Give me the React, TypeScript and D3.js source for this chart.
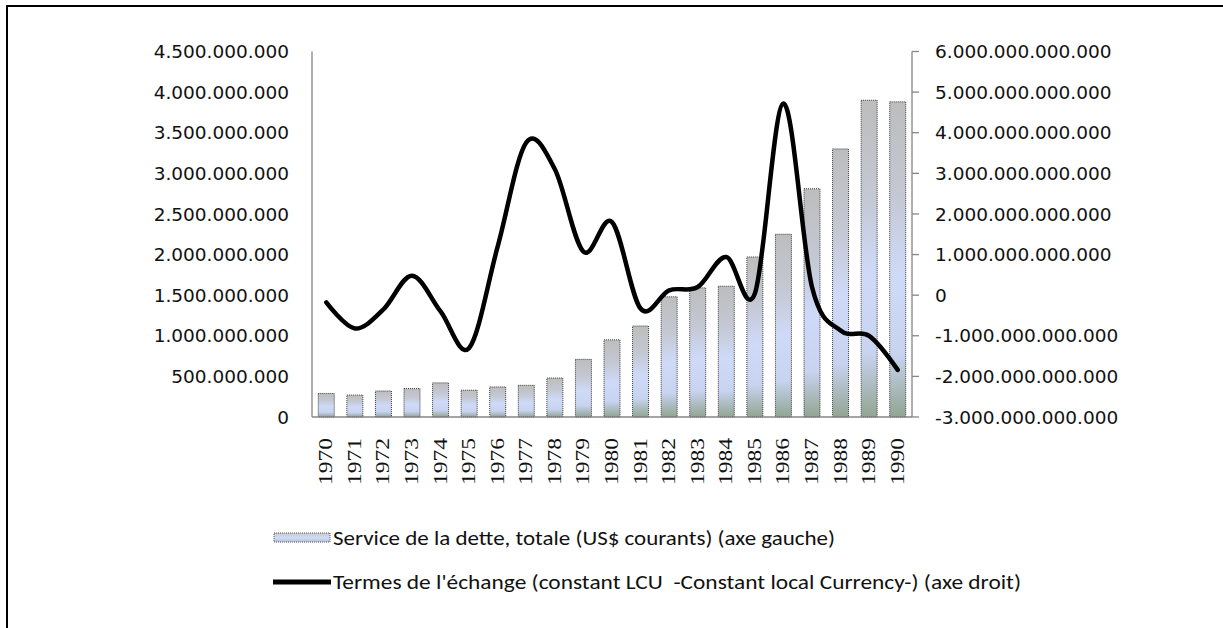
import React from "react";
import * as d3 from "d3";

const years = ["1970","1971","1972","1973","1974","1975","1976","1977","1978","1979","1980","1981","1982","1983","1984","1985","1986","1987","1988","1989","1990"];
const debtService = [290e6, 270e6, 320e6, 350e6, 420e6, 330e6, 370e6, 390e6, 480e6, 710e6, 950e6, 1120e6, 1480e6, 1590e6, 1610e6, 1970e6, 2250e6, 2810e6, 3300e6, 3900e6, 3880e6];
const termsOfTrade = [-0.18e12, -0.82e12, -0.35e12, 0.48e12, -0.4e12, -1.3e12, 1.2e12, 3.76e12, 3.1e12, 1.07e12, 1.8e12, -0.33e12, 0.12e12, 0.2e12, 0.94e12, 0.04e12, 4.72e12, 0.2e12, -0.87e12, -1.0e12, -1.84e12];
const leftTicks = [0, 500e6, 1000e6, 1500e6, 2000e6, 2500e6, 3000e6, 3500e6, 4000e6, 4500e6];
const rightTicks = [-3e12, -2e12, -1e12, 0, 1e12, 2e12, 3e12, 4e12, 5e12, 6e12];
const legendBar = "Service de la dette, totale (US$ courants) (axe gauche)";
const legendLine = "Termes de l'échange (constant LCU  -Constant local Currency-) (axe droit)";

const W = 1223, H = 628;
const X0 = 312, X1 = 912, YT = 51.5, YB = 417;

const fmt = (v: number) => {
  const neg = v < 0;
  const s = Math.abs(Math.round(v)).toString().replace(/\B(?=(\d{3})+(?!\d))/g, ".");
  return (neg ? "-" : "") + s;
};

export default function App() {
  const x = d3.scaleBand<string>().domain(years).range([X0, X1]).paddingInner(0.44).paddingOuter(0.22);
  const yL = d3.scaleLinear().domain([0, 4.5e9]).range([YB, YT]);
  const yR = d3.scaleLinear().domain([-3e12, 6e12]).range([YB, YT]);
  const cx = (i: number) => (x(years[i]) as number) + x.bandwidth() / 2;
  const line = d3.line<number>().x((_, i) => cx(i)).y((d) => yR(d)).curve(d3.curveCardinal.tension(0));
  const axisColor = "#868686";
  const tickFont = "'DejaVu Sans', Verdana, sans-serif";
  const legendFont = "Carlito, 'Liberation Sans Narrow', 'Liberation Sans', sans-serif";

  return (
    <svg width={W} height={H} style={{ position: "absolute", left: 0, top: 0, display: "block", background: "#fff" }}>
      <defs>
        <linearGradient id="barGrad" x1="0" y1="0" x2="0" y2="1">
          <stop offset="0" stopColor="#bdbdbd" />
          <stop offset="0.3" stopColor="#c4c8d3" />
          <stop offset="0.55" stopColor="#cfdaf8" />
          <stop offset="0.8" stopColor="#c8d3f0" />
          <stop offset="1" stopColor="#92a592" />
        </linearGradient>
        <linearGradient id="legGrad" x1="0" y1="0" x2="0" y2="1">
          <stop offset="0" stopColor="#c8c8c8" />
          <stop offset="0.5" stopColor="#d0dbf6" />
          <stop offset="1" stopColor="#b8c4dc" />
        </linearGradient>
      </defs>
      <rect x={7} y={6} width={W + 10} height={H + 10} fill="none" stroke="#000" strokeWidth={2} />

      {/* bars */}
      {debtService.map((v, i) => (
        <rect key={years[i]} x={x(years[i])} y={yL(v)} width={x.bandwidth()} height={YB - yL(v)}
          fill="url(#barGrad)" stroke="#3a3a3a" strokeWidth={1} strokeDasharray="1,1" />
      ))}

      {/* axes */}
      <line x1={X0} x2={X0} y1={YT} y2={YB} stroke={axisColor} strokeWidth={1.3} />
      <line x1={X1} x2={X1} y1={YT} y2={YB} stroke={axisColor} strokeWidth={1.3} />
      <line x1={X0} x2={X1} y1={YB} y2={YB} stroke={axisColor} strokeWidth={1.3} />
      {rightTicks.map((t) => (
        <line key={"rt" + t} x1={X1} x2={X1 + 7} y1={yR(t)} y2={yR(t)} stroke={axisColor} strokeWidth={1.3} />
      ))}

      {leftTicks.map((t) => (
        <text key={"l" + t} x={289} y={yL(t)} dy="0.36em" textAnchor="end" fontFamily={tickFont} fontSize={18.5} fill="#111">
          {fmt(t)}
        </text>
      ))}
      {rightTicks.map((t) => (
        <text key={"r" + t} x={935} y={yR(t)} dy="0.36em" textAnchor="start" fontFamily={tickFont} fontSize={18.5} fill="#111">
          {fmt(t)}
        </text>
      ))}

      {/* year labels */}
      {years.map((yr, i) => (
        <text key={"y" + yr} transform={`translate(${cx(i) + 6},${438}) rotate(-90)`} textAnchor="end"
          fontFamily="'Liberation Serif', 'Times New Roman', serif" fontSize={18} textLength={47} lengthAdjust="spacingAndGlyphs" fill="#111">
          {yr}
        </text>
      ))}

      {/* line */}
      <path d={line(termsOfTrade) || ""} fill="none" stroke="#000" strokeWidth={4.5} strokeLinejoin="round" strokeLinecap="round" />

      {/* legend */}
      <rect x={274} y={533} width={56} height={9} fill="url(#legGrad)" stroke="#555" strokeWidth={1} strokeDasharray="1,1" />
      <text x={333} y={545} fontFamily={legendFont} fontSize={20} textLength={502} lengthAdjust="spacingAndGlyphs" fill="#111">{legendBar}</text>
      <line x1={273} x2={331} y1={582} y2={582} stroke="#000" strokeWidth={5} />
      <text x={333} y={589} fontFamily={legendFont} fontSize={20} textLength={688} lengthAdjust="spacingAndGlyphs" fill="#111" style={{ whiteSpace: "pre" }}>{legendLine}</text>
    </svg>
  );
}
